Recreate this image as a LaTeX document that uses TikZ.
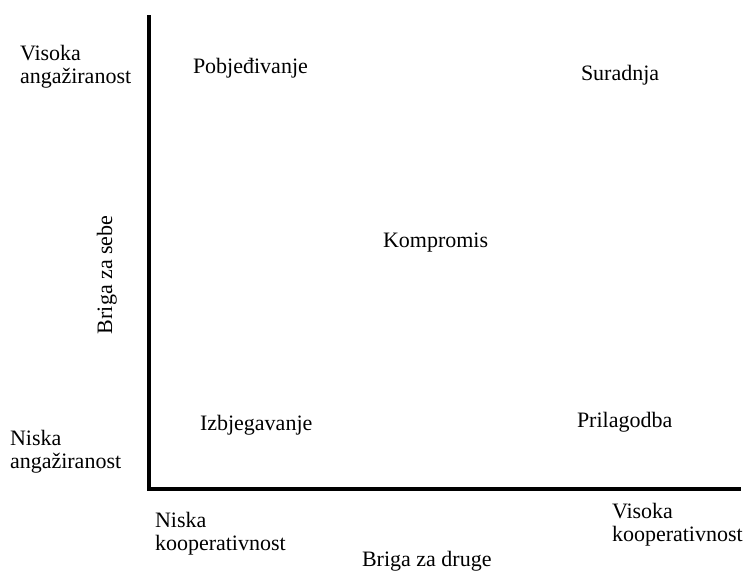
\documentclass[tikz,border=0pt]{standalone}
\usepackage{fontspec}
\setmainfont{Liberation Serif}
\begin{document}
\begin{tikzpicture}[x=1pt,y=-1pt,
  lbl/.style={anchor=base west,inner sep=0pt,outer sep=0pt,align=left,
    font=\fontsize{22}{23}\selectfont},
  axis/.style={line width=4pt,line cap=rect}]
\useasboundingbox (0,0) rectangle (746,571);
\clip (0,0) rectangle (746,571);
\coordinate (top) at (149,17);
\coordinate (origin) at (149,489);
\coordinate (right) at (739,489);
\draw[axis] (top) -- (origin) -- (right);
\node[lbl] (vis) at (20,83) {Visoka\\angažiranost};
\node[lbl] (nis) at (10,468) {Niska\\angažiranost};
\node[lbl] (nkoop) at (155,550) {Niska\\kooperativnost};
\node[lbl] (vkoop) at (612,541) {Visoka\\kooperativnost};
\node[lbl] (pob) at (193,73) {Pobjeđivanje};
\node[lbl] (sur) at (581,80) {Suradnja};
\node[lbl] (kom) at (383,247) {Kompromis};
\node[lbl] (izb) at (200,430) {Izbjegavanje};
\node[lbl] (pri) at (577,427) {Prilagodba};
\node[lbl] (bd) at (362,566) {Briga za druge};
\node[lbl,rotate=90] (bs) at (112,334) {Briga za sebe};
\end{tikzpicture}
\end{document}
